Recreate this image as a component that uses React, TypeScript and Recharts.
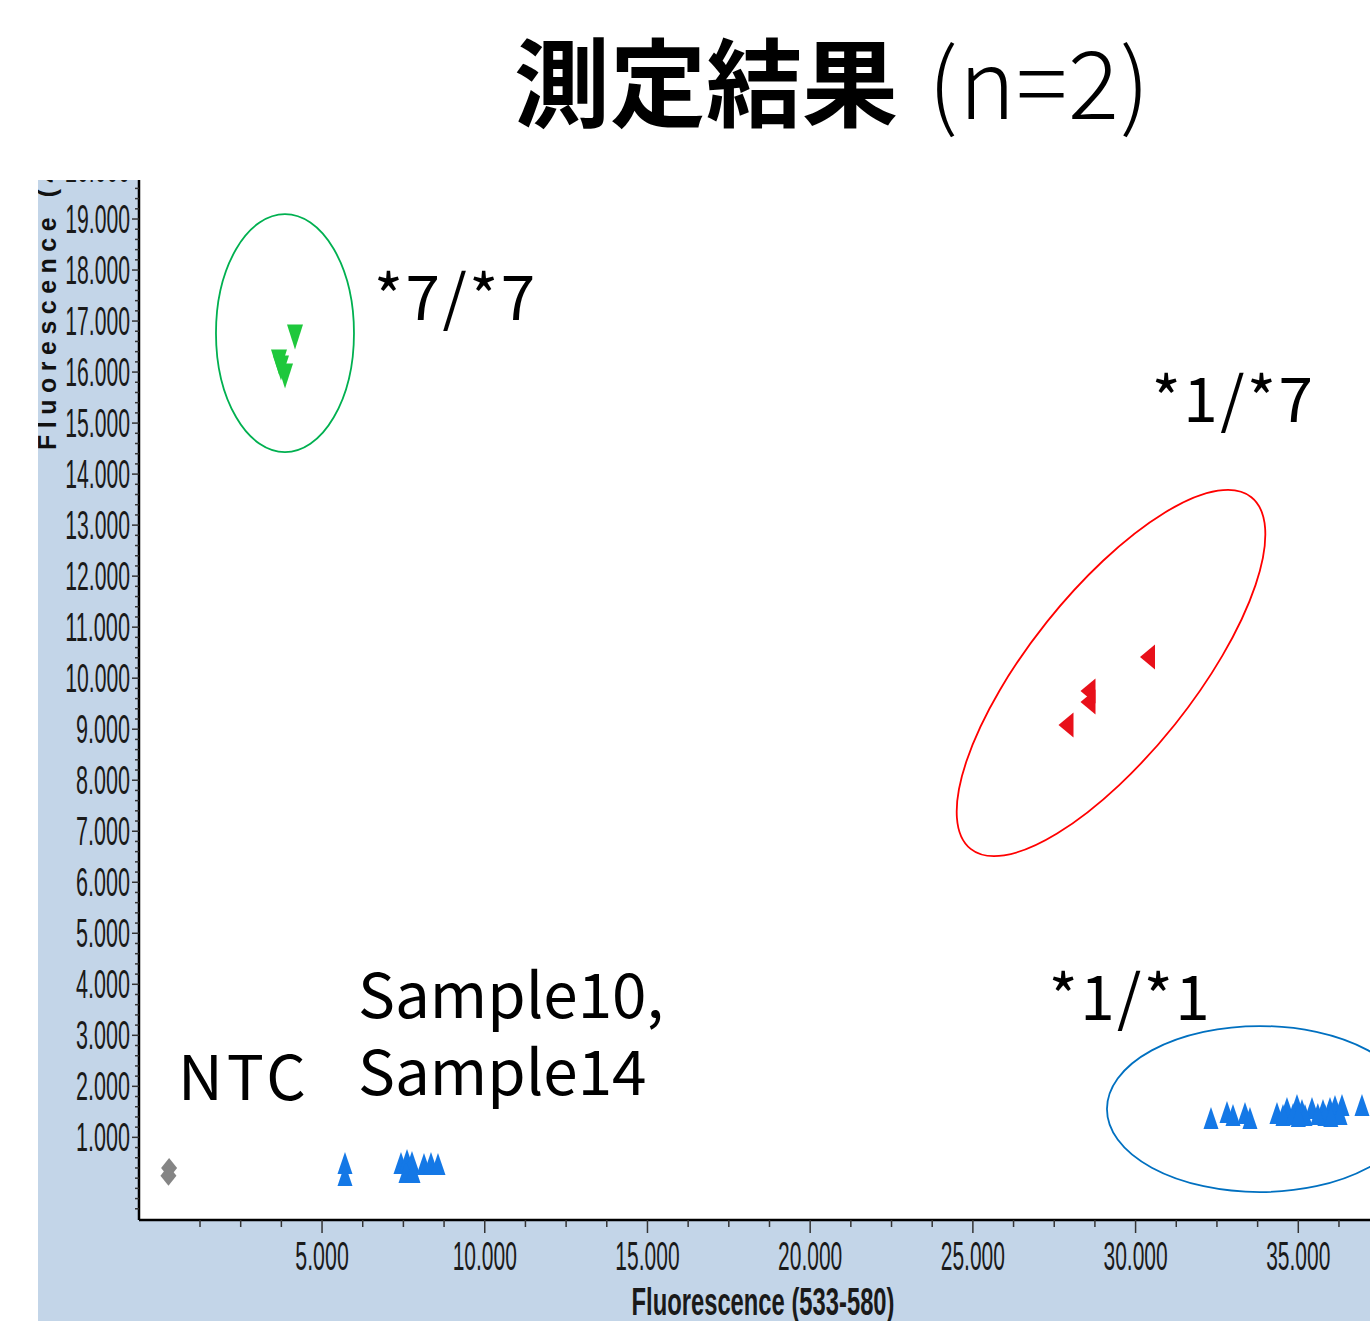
import React from 'react';
import { ScatterChart, Scatter, XAxis, YAxis, CartesianGrid, ReferenceDot } from 'recharts';

// ---------- data ----------
const greenSeries = [
  { x: 4169, y: 16689 },
  { x: 3677, y: 16199 },
  { x: 3738, y: 16081 },
  { x: 3862, y: 15924 },
];
const redSeries = [
  { x: 30366, y: 10416 },
  { x: 28537, y: 9749 },
  { x: 28537, y: 9534 },
  { x: 27861, y: 9083 },
];
const greySeries = [
  { x: 300, y: 398 },
  { x: 280, y: 245 },
];
const blueSeries = [
  { x: 5705, y: 498 },
  { x: 5705, y: 263 },
  { x: 7426, y: 498 },
  { x: 7611, y: 557 },
  { x: 7764, y: 517 },
  { x: 7580, y: 321 },
  { x: 7795, y: 321 },
  { x: 8133, y: 478 },
  { x: 8348, y: 498 },
  { x: 8563, y: 478 },
  { x: 32317, y: 1380 },
  { x: 32809, y: 1497 },
  { x: 32993, y: 1439 },
  { x: 33362, y: 1478 },
  { x: 33515, y: 1380 },
  { x: 34345, y: 1478 },
  { x: 34652, y: 1576 },
  { x: 34960, y: 1635 },
  { x: 35113, y: 1537 },
  { x: 35421, y: 1576 },
  { x: 35759, y: 1537 },
  { x: 35974, y: 1576 },
  { x: 36128, y: 1615 },
  { x: 36343, y: 1635 },
  { x: 36957, y: 1635 },
  { x: 34530, y: 1439 },
  { x: 35206, y: 1439 },
  { x: 35820, y: 1439 },
  { x: 36282, y: 1458 },
  { x: 34840, y: 1458 },
  { x: 35600, y: 1458 },
  { x: 35000, y: 1420 },
  { x: 36000, y: 1420 },
];

const xMajorTicks = [5000, 10000, 15000, 20000, 25000, 30000, 35000];
const xMajorLabels = ['5.000', '10.000', '15.000', '20.000', '25.000', '30.000', '35.000'];
const yMajorTicks = [1000, 2000, 3000, 4000, 5000, 6000, 7000, 8000, 9000, 10000, 11000, 12000, 13000, 14000, 15000, 16000, 17000, 18000, 19000, 20000];
const yMajorLabels = ['1.000', '2.000', '3.000', '4.000', '5.000', '6.000', '7.000', '8.000', '9.000', '10.000', '11.000', '12.000', '13.000', '14.000', '15.000', '16.000', '17.000', '18.000', '19.000', '20.000'];
const xMinorStep = 1250;
const yMinorStep = 200;
const xAllTicks = Array.from({ length: 32 }, (_, i) => (i + 1) * xMinorStep);
const yAllTicks = Array.from({ length: 103 }, (_, i) => -400 + i * yMinorStep);

const xDomain = [-625, 40000];
const yDomain = [-620, 20000];

const clusterEllipses = [
  { x: 3861, y: 16763, rx: 69, ry: 119, rot: 0, color: '#00b050' },
  { x: 29245, y: 10101, rx: 225, ry: 82, rot: -51.4, color: '#ff0000' },
  { x: 33822, y: 1555, rx: 153, ry: 83, rot: 0, color: '#0070c0' },
];

const annotations = [
  { x: 6600, y: 17021, text: '*7/*7', ls: 2.5 },
  { x: 30500, y: 15020, text: '*1/*7', ls: 2.5 },
  { x: 6105, y: 3340, text: 'Sample10,', ls: 0 },
  { x: 6105, y: 1831, text: 'Sample14', ls: 0 },
  { x: 570, y: 1733, text: 'NTC', ls: 4 },
  { x: 27330, y: 3301, text: '*1/*1', ls: 2.5 },
];

// ---------- marker shapes ----------
const UpTri = (color: string) => (p: any) => {
  const { cx, cy } = p;
  const w = 15, h = 22;
  return <polygon points={`${cx - w / 2},${cy + h / 2} ${cx + w / 2},${cy + h / 2} ${cx},${cy - h / 2}`} fill={color} />;
};
const DownTri = (color: string) => (p: any) => {
  const { cx, cy } = p;
  const w = 16, h = 25;
  return <polygon points={`${cx - w / 2},${cy - h / 2} ${cx + w / 2},${cy - h / 2} ${cx},${cy + h / 2}`} fill={color} />;
};
const LeftTri = (color: string) => (p: any) => {
  const { cx, cy } = p;
  const w = 15, h = 25;
  return <polygon points={`${cx + w / 2},${cy - h / 2} ${cx + w / 2},${cy + h / 2} ${cx - w / 2},${cy}`} fill={color} />;
};
const Diamond = (color: string) => (p: any) => {
  const { cx, cy } = p;
  const w = 16, h = 20;
  return <polygon points={`${cx},${cy - h / 2} ${cx + w / 2},${cy} ${cx},${cy + h / 2} ${cx - w / 2},${cy}`} fill={color} />;
};

// ---------- ticks ----------
const tickFont = '"Liberation Sans", Arial, sans-serif';

const XTick = (props: any) => {
  const { x, y, payload } = props;
  const v = payload.value;
  const idx = xMajorTicks.indexOf(v);
  const major = idx >= 0;
  const label = major ? xMajorLabels[idx] : '';
  return (
    <g>
      <line x1={x} x2={x} y1={y} y2={y + (major ? 13 : 7)} stroke="#333" strokeWidth={1.5} />
      {major && (
        <text x={x} y={y + 50} textAnchor="middle" fontSize={40} fontFamily={tickFont} fill="#1a1a1a"
          textLength={label.length * 10.7} lengthAdjust="spacingAndGlyphs">{label}</text>
      )}
    </g>
  );
};

const YTick = (props: any) => {
  const { x, y, payload } = props;
  const v = payload.value;
  const idx = yMajorTicks.indexOf(v);
  const major = idx >= 0;
  const label = major ? yMajorLabels[idx] : '';
  return (
    <g>
      <line x1={x} x2={x - (major ? 7 : 4)} y1={y} y2={y} stroke="#333" strokeWidth={1.5} />
      {major && (
        <text x={x - 9} y={y + 14} textAnchor="end" fontSize={40} fontFamily={tickFont} fill="#1a1a1a"
          textLength={label.length * 10.8} lengthAdjust="spacingAndGlyphs">{label}</text>
      )}
    </g>
  );
};

const XTitle = (props: any) => {
  const vb = props.viewBox || { x: 0, y: 0 };
  return (
    <text x={725} y={vb.y + 95} textAnchor="middle" fontSize={38} fontWeight={700} fontFamily={tickFont}
      fill="#1a1a1a" textLength={263} lengthAdjust="spacingAndGlyphs">Fluorescence (533-580)</text>
  );
};

const YTitle = (props: any) => {
  const vb = props.viewBox || { x: 0, y: 0 };
  const tx = vb.x + 18, ty = vb.y + 282;
  return (
    <text x={tx} y={ty} transform={`rotate(-90 ${tx} ${ty})`} fontSize={25} fontWeight={700}
      fontFamily={tickFont} fill="#111" letterSpacing={6.5}>Fluorescence (483-533)</text>
  );
};

const annFont = '"Noto Sans CJK JP", "Noto Sans", sans-serif';

export default function App() {
  return (
    <div style={{ position: 'absolute', left: 0, top: 0, width: 1370, height: 1321, overflow: 'hidden', background: '#fff' }}>
      <svg width={1370} height={170} style={{ position: 'absolute', left: 0, top: 0 }}>
        <text x={514} y={119} fontFamily={annFont} fill="#000">
          <tspan fontSize={96} fontWeight={700}>測定結果</tspan>
          <tspan fontSize={95} fontWeight={300} dx={30} letterSpacing={1}>(n=2)</tspan>
        </text>
      </svg>
      <div style={{ position: 'absolute', left: 38, top: 180, width: 1332, height: 1141, overflow: 'hidden', background: '#c3d5e8' }}>
        <div style={{ position: 'absolute', left: 0, top: -12 }}>
          <ScatterChart width={1433} height={1153} margin={{ top: 0, right: 10, bottom: 0, left: 0 }}>
            <CartesianGrid horizontal={false} vertical={false} fill="#ffffff" stroke="none" />
            <XAxis type="number" dataKey="x" domain={xDomain} ticks={xAllTicks} interval={0}
              allowDataOverflow height={101} tickSize={0} tickMargin={0} tickLine={false}
              axisLine={{ stroke: '#000', strokeWidth: 2.5 }} tick={<XTick />} label={<XTitle />} />
            <YAxis type="number" dataKey="y" domain={yDomain} ticks={yAllTicks} interval={0}
              allowDataOverflow width={101} tickSize={0} tickMargin={0} tickLine={false}
              axisLine={{ stroke: '#000', strokeWidth: 2.5 }} tick={<YTick />} label={<YTitle />} />
            <Scatter data={greySeries} shape={Diamond('#858585')} isAnimationActive={false} />
            <Scatter data={blueSeries} shape={UpTri('#1478e6')} isAnimationActive={false} />
            <Scatter data={greenSeries} shape={DownTri('#1ec83c')} isAnimationActive={false} />
            <Scatter data={redSeries} shape={LeftTri('#e8101a')} isAnimationActive={false} />
            {clusterEllipses.map((e, i) => (
              <ReferenceDot key={'e' + i} x={e.x} y={e.y} r={1} ifOverflow="visible"
                shape={(p: any) => (
                  <ellipse cx={p.cx} cy={p.cy} rx={e.rx} ry={e.ry}
                    transform={`rotate(${e.rot} ${p.cx} ${p.cy})`} fill="none" stroke={e.color} strokeWidth={1.8} />
                )} />
            ))}
            {annotations.map((a, i) => (
              <ReferenceDot key={'a' + i} x={a.x} y={a.y} r={1} ifOverflow="visible"
                shape={(p: any) => (
                  <text x={p.cx} y={p.cy} fontSize={62} fontFamily={annFont} fill="#000" letterSpacing={a.ls}>{a.text}</text>
                )} />
            ))}
          </ScatterChart>
        </div>
      </div>
    </div>
  );
}
